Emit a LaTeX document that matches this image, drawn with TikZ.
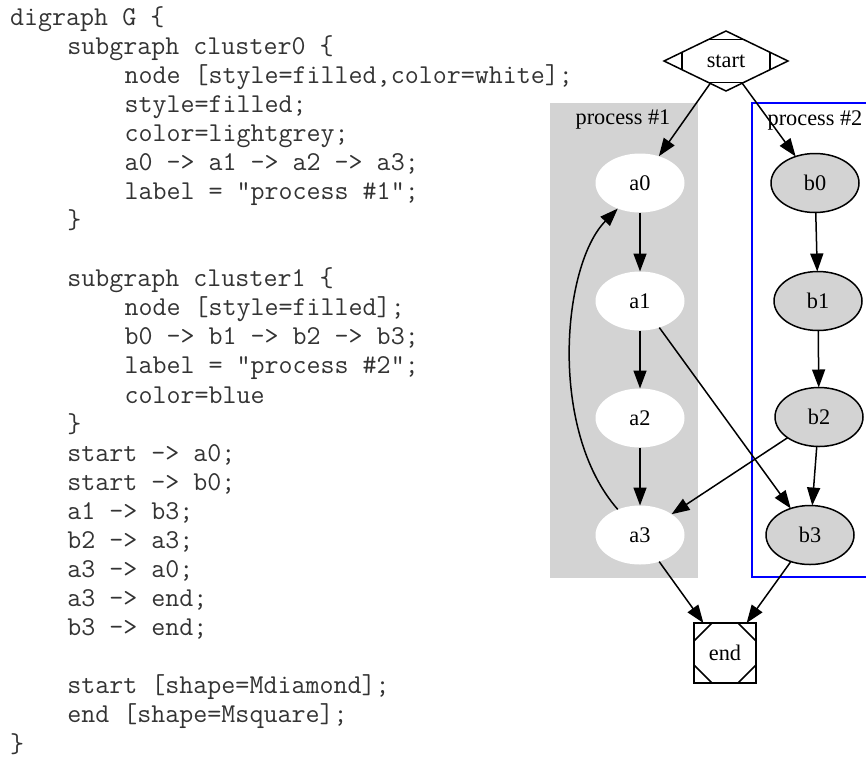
\documentclass[tikz,border=0pt]{standalone}
\usepackage{fontspec}
\setmainfont{Liberation Serif}
\usetikzlibrary{shapes.geometric,arrows.meta,calc}
\definecolor{lgrey}{HTML}{D3D3D3}
\definecolor{codecol}{HTML}{333333}
\begin{document}
\begin{tikzpicture}[x=1pt,y=-1pt,
  code/.style={anchor=base west,inner sep=0pt,font=\ttfamily\fontsize{27.2}{29}\selectfont,text=codecol},
  gv/.style={font=\fontsize{22.3}{26}\selectfont},
  anode/.style={gv,ellipse,fill=white,minimum width=89pt,minimum height=59pt,inner sep=0pt,outer sep=0pt},
  bnode/.style={gv,ellipse,draw,fill=lgrey,line width=1.5pt,minimum width=88pt,minimum height=59pt,inner sep=0pt,outer sep=0pt},
  edgeline/.style={line width=1.5pt,-{Triangle[length=18pt,width=13pt]}},
  thin/.style={line width=1.5pt}]
\useasboundingbox (0,0) rectangle (866,758);
\clip (0,0) rectangle (866,758);
\fill[white] (0,0) rectangle (866,758);
% code
\node[code] (l1) at (10,25) {digraph G \{};
\node[code] (l2) at (67.2,54.08) {subgraph cluster0 \{};
\node[code] (l3) at (124.4,83.16) {node [style=filled,color=white];};
\node[code] (l4) at (124.4,112.24) {style=filled;};
\node[code] (l5) at (124.4,141.32) {color=lightgrey;};
\node[code] (l6) at (124.4,170.4) {a0 -> a1 -> a2 -> a3;};
\node[code] (l7) at (124.4,199.48) {label = "process \#1";};
\node[code] (l8) at (67.2,228.56) {\}};
\node[code] (l10) at (67.2,286.72) {subgraph cluster1 \{};
\node[code] (l11) at (124.4,315.8) {node [style=filled];};
\node[code] (l12) at (124.4,344.88) {b0 -> b1 -> b2 -> b3;};
\node[code] (l13) at (124.4,373.96) {label = "process \#2";};
\node[code] (l14) at (124.4,403.04) {color=blue};
\node[code] (l15) at (67.2,432.12) {\}};
\node[code] (l16) at (67.2,461.2) {start -> a0;};
\node[code] (l17) at (67.2,490.28) {start -> b0;};
\node[code] (l18) at (67.2,519.36) {a1 -> b3;};
\node[code] (l19) at (67.2,548.44) {b2 -> a3;};
\node[code] (l20) at (67.2,577.52) {a3 -> a0;};
\node[code] (l21) at (67.2,606.6) {a3 -> end;};
\node[code] (l22) at (67.2,635.68) {b3 -> end;};
\node[code] (l24) at (67.2,693.84) {start [shape=Mdiamond];};
\node[code] (l25) at (67.2,722.92) {end [shape=Msquare];};
\node[code] (l26) at (10,752) {\}};
% clusters
\fill[lgrey] (550,103) rectangle (698,578);
\draw[blue,line width=1.5pt] (752,103) rectangle (890,577);
\node[gv] (lab1) at (623,120) {process \#1};
\node[gv] (lab2) at (815,120) {process \#2};
% nodes
\node[gv,diamond,draw,thin,minimum width=124pt,minimum height=60pt,inner sep=0pt,outer sep=0pt] (start) at (726,61) {start};
\draw[thin] ($(start.north)!0.28!(start.west)$) -- ($(start.north)!0.28!(start.east)$);
\draw[thin] ($(start.south)!0.28!(start.west)$) -- ($(start.south)!0.28!(start.east)$);
\draw[thin] ($(start.west)!0.29!(start.north)$) -- ($(start.west)!0.29!(start.south)$);
\draw[thin] ($(start.east)!0.29!(start.north)$) -- ($(start.east)!0.29!(start.south)$);
\node[anode] (a0) at (640,183) {a0};
\node[anode] (a1) at (640,301) {a1};
\node[anode] (a2) at (640,418) {a2};
\node[anode] (a3) at (640,535) {a3};
\node[bnode] (b0) at (815,183) {b0};
\node[bnode] (b1) at (818,301) {b1};
\node[bnode] (b2) at (819,417) {b2};
\node[bnode] (b3) at (810,535) {b3};
\node[gv,rectangle,draw,thin,minimum width=62pt,minimum height=60pt,inner sep=0pt,outer sep=0pt] (endn) at (725,653) {end};
\draw[thin] (endn.north west) ++(18,0) -- ++(-18,18);
\draw[thin] (endn.north east) ++(-18,0) -- ++(18,18);
\draw[thin] (endn.south west) ++(18,0) -- ++(-18,-18);
\draw[thin] (endn.south east) ++(-18,0) -- ++(18,-18);
% edges
\draw[edgeline] (start) -- (a0);
\draw[edgeline] (start) -- (b0);
\draw[edgeline] (a0) -- (a1);
\draw[edgeline] (a1) -- (a2);
\draw[edgeline] (a2) -- (a3);
\draw[edgeline] (b0) -- (b1);
\draw[edgeline] (b1) -- (b2);
\draw[edgeline] (b2) -- (b3);
\draw[edgeline] (a1) -- (b3);
\draw[edgeline] (b2) -- (a3);
\draw[edgeline] (a3.131) .. controls (548,430) and (562,265) .. (a0.229);
\draw[edgeline] (a3) -- (endn);
\draw[edgeline] (b3) -- (endn);
\end{tikzpicture}
\end{document}
